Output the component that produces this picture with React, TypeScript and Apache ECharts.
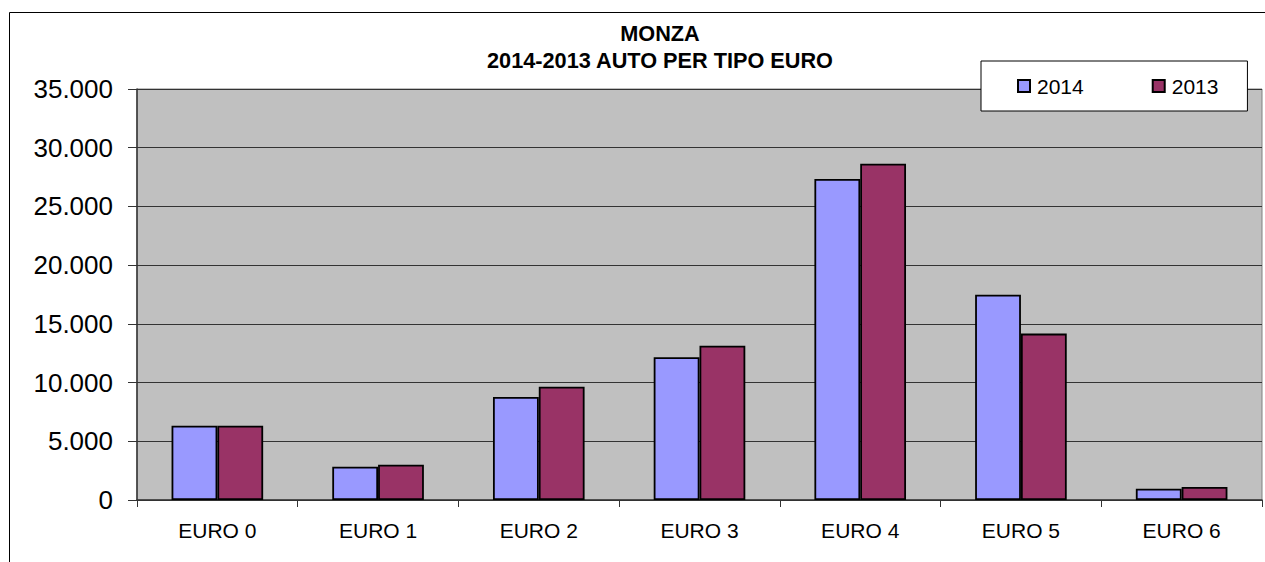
import React, { useEffect, useRef } from "react";
import * as echarts from "echarts";

const categories = ["EURO 0", "EURO 1", "EURO 2", "EURO 3", "EURO 4", "EURO 5", "EURO 6"];
const values2014 = [6320, 2840, 8780, 12150, 27330, 17480, 965];
const values2013 = [6320, 3010, 9650, 13140, 28640, 14170, 1110];
const seriesNames = ["2014", "2013"];
const titleLines = ["MONZA", "2014-2013 AUTO PER TIPO EURO"];

const FONT = "'Liberation Sans', Arial, sans-serif";

function fmt(v: number): string {
  if (v === 0) return "0";
  const s = String(Math.round(v));
  return s.replace(/\B(?=(\d{3})+(?!\d))/g, ".");
}

export default function App() {
  const ref = useRef<HTMLDivElement>(null);
  useEffect(() => {
    if (!ref.current) return;
    const chart = echarts.init(ref.current, undefined, { renderer: "svg" });
    const barStyle = (color: string) => ({
      color,
      borderColor: "#000000",
      borderWidth: 1.8,
    });
    chart.setOption({
      animation: false,
      backgroundColor: "#ffffff",
      textStyle: { fontFamily: FONT },
      graphic: [
        {
          type: "rect",
          shape: { x: 9.5, y: 12.5, width: 1300, height: 600 },
          style: { fill: "none", stroke: "#000000", lineWidth: 1 },
          silent: true,
        },
        {
          type: "text",
          x: 660,
          y: 20,
          style: {
            text: titleLines.join("\n"),
            textAlign: "center",
            fill: "#000000",
            font: `bold 21.7px ${FONT}`,
            lineHeight: 27,
          },
        },
      ],
      legend: {
        left: 981,
        top: 61,
        orient: "horizontal",
        backgroundColor: "#ffffff",
        borderColor: "#000000",
        borderWidth: 1,
        padding: [14, 29, 14, 36],
        itemWidth: 12,
        itemHeight: 12,
        itemGap: 68,
        icon: "rect",
        textStyle: { fontSize: 21, color: "#000000", fontFamily: FONT, lineHeight: 22, padding: [0, 0, 0, 2] },
        data: seriesNames,
      },
      grid: {
        left: 137,
        top: 89,
        width: 1125,
        height: 411,
        show: true,
        backgroundColor: "#C0C0C0",
        borderColor: "#808080",
        borderWidth: 1,
      },
      xAxis: {
        type: "category",
        data: categories,
        axisLine: { show: true, lineStyle: { color: "#333333", width: 1.5 } },
        axisTick: { show: true, length: 7, alignWithLabel: false, lineStyle: { color: "#333333" } },
        axisLabel: { fontSize: 21, color: "#000000", margin: 20, fontFamily: FONT },
        splitLine: { show: false },
      },
      yAxis: {
        type: "value",
        min: 0,
        max: 35000,
        interval: 5000,
        axisLine: { show: true, lineStyle: { color: "#333333", width: 1.5 } },
        axisTick: { show: true, length: 9, lineStyle: { color: "#333333" } },
        axisLabel: { fontSize: 26, color: "#000000", margin: 24, formatter: (v: number) => fmt(v), fontFamily: FONT },
        splitLine: { show: true, lineStyle: { color: "#333333", width: 1 } },
      },
      series: [
        {
          name: seriesNames[0],
          type: "bar",
          data: values2014,
          barGap: "0%",
          barCategoryGap: "43%",
          itemStyle: barStyle("#9999FF"),
        },
        {
          name: seriesNames[1],
          type: "bar",
          data: values2013,
          barGap: "0%",
          barCategoryGap: "43%",
          itemStyle: barStyle("#993366"),
        },
      ],
    });
    return () => chart.dispose();
  }, []);
  return (
    <div
      ref={ref}
      style={{ position: "absolute", left: 0, top: 0, width: 1265, height: 562 }}
    />
  );
}
